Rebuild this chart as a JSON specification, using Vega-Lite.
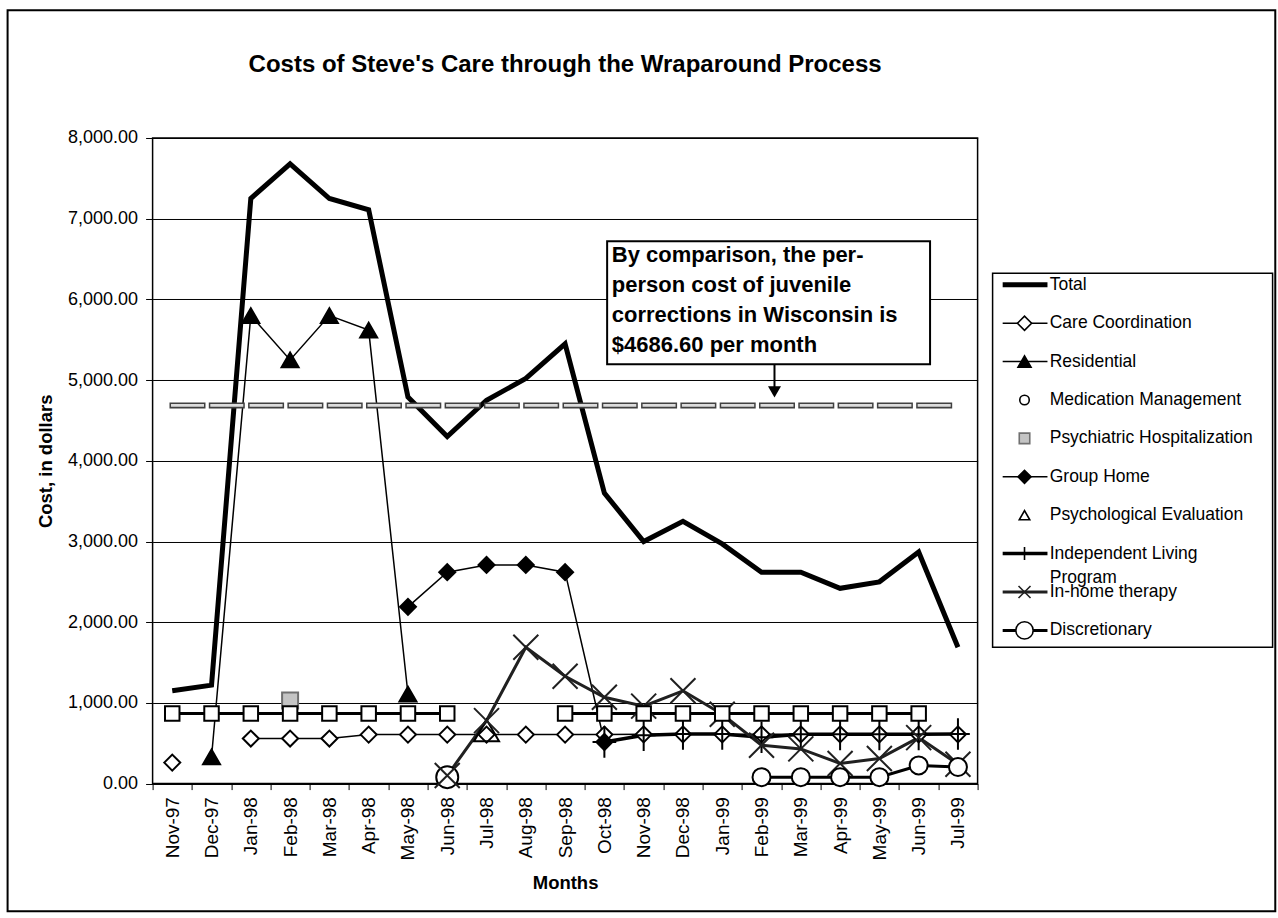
{
  "$schema": "https://vega.github.io/schema/vega-lite/v6.json",
  "autosize": {"type": "pad"},
  "padding": {"left": 5.6, "top": 9, "right": 0, "bottom": 0},
  "background": "white",
  "spacing": 15,
  "bounds": "flush",
  "resolve": {"scale": {"size": "independent"}},
  "config": {
    "font": "Liberation Sans",
    "view": {"stroke": null},
    "axis": {"labelColor": "black", "titleColor": "black", "tickColor": "black", "domainColor": "black"}
  },
  "datasets": {
    "costs": [
      {"month": "Nov-97", "Total": 1150, "Care Coordination": 260, "Residential": null, "Medication Management": null, "Psychiatric Hospitalization": null, "Group Home": null, "Psychological Evaluation": null, "Independent Living Program": null, "In-home therapy": null, "Discretionary": null, "Other services": 870},
      {"month": "Dec-97", "Total": 1220, "Care Coordination": null, "Residential": 330, "Medication Management": null, "Psychiatric Hospitalization": null, "Group Home": null, "Psychological Evaluation": null, "Independent Living Program": null, "In-home therapy": null, "Discretionary": null, "Other services": 870},
      {"month": "Jan-98", "Total": 7250, "Care Coordination": 558, "Residential": 5800, "Medication Management": null, "Psychiatric Hospitalization": null, "Group Home": null, "Psychological Evaluation": null, "Independent Living Program": null, "In-home therapy": null, "Discretionary": null, "Other services": 870},
      {"month": "Feb-98", "Total": 7680, "Care Coordination": 558, "Residential": 5250, "Medication Management": null, "Psychiatric Hospitalization": 1030, "Group Home": null, "Psychological Evaluation": null, "Independent Living Program": null, "In-home therapy": null, "Discretionary": null, "Other services": 870},
      {"month": "Mar-98", "Total": 7250, "Care Coordination": 558, "Residential": 5800, "Medication Management": null, "Psychiatric Hospitalization": null, "Group Home": null, "Psychological Evaluation": null, "Independent Living Program": null, "In-home therapy": null, "Discretionary": null, "Other services": 870},
      {"month": "Apr-98", "Total": 7110, "Care Coordination": 607, "Residential": 5620, "Medication Management": null, "Psychiatric Hospitalization": null, "Group Home": null, "Psychological Evaluation": null, "Independent Living Program": null, "In-home therapy": null, "Discretionary": null, "Other services": 870},
      {"month": "May-98", "Total": 4790, "Care Coordination": 607, "Residential": 1110, "Medication Management": null, "Psychiatric Hospitalization": null, "Group Home": 2190, "Psychological Evaluation": null, "Independent Living Program": null, "In-home therapy": null, "Discretionary": null, "Other services": 870},
      {"month": "Jun-98", "Total": 4300, "Care Coordination": 607, "Residential": null, "Medication Management": 80, "Psychiatric Hospitalization": null, "Group Home": 2620, "Psychological Evaluation": null, "Independent Living Program": null, "In-home therapy": 100, "Discretionary": null, "Other services": 870},
      {"month": "Jul-98", "Total": 4750, "Care Coordination": 607, "Residential": null, "Medication Management": null, "Psychiatric Hospitalization": null, "Group Home": 2710, "Psychological Evaluation": 660, "Independent Living Program": null, "In-home therapy": 780, "Discretionary": null, "Other services": null},
      {"month": "Aug-98", "Total": 5020, "Care Coordination": 607, "Residential": null, "Medication Management": null, "Psychiatric Hospitalization": null, "Group Home": 2710, "Psychological Evaluation": null, "Independent Living Program": null, "In-home therapy": 1690, "Discretionary": null, "Other services": null},
      {"month": "Sep-98", "Total": 5450, "Care Coordination": 607, "Residential": null, "Medication Management": null, "Psychiatric Hospitalization": null, "Group Home": 2620, "Psychological Evaluation": null, "Independent Living Program": null, "In-home therapy": 1330, "Discretionary": null, "Other services": 870},
      {"month": "Oct-98", "Total": 3600, "Care Coordination": 607, "Residential": null, "Medication Management": null, "Psychiatric Hospitalization": null, "Group Home": 515, "Psychological Evaluation": null, "Independent Living Program": 515, "In-home therapy": 1070, "Discretionary": null, "Other services": 870},
      {"month": "Nov-98", "Total": 3000, "Care Coordination": 610, "Residential": null, "Medication Management": null, "Psychiatric Hospitalization": null, "Group Home": null, "Psychological Evaluation": null, "Independent Living Program": 600, "In-home therapy": 960, "Discretionary": null, "Other services": 870},
      {"month": "Dec-98", "Total": 3250, "Care Coordination": 610, "Residential": null, "Medication Management": null, "Psychiatric Hospitalization": null, "Group Home": null, "Psychological Evaluation": null, "Independent Living Program": 615, "In-home therapy": 1150, "Discretionary": null, "Other services": 870},
      {"month": "Jan-99", "Total": 2970, "Care Coordination": 610, "Residential": null, "Medication Management": null, "Psychiatric Hospitalization": null, "Group Home": null, "Psychological Evaluation": null, "Independent Living Program": 615, "In-home therapy": 860, "Discretionary": null, "Other services": 870},
      {"month": "Feb-99", "Total": 2620, "Care Coordination": 610, "Residential": null, "Medication Management": null, "Psychiatric Hospitalization": null, "Group Home": null, "Psychological Evaluation": null, "Independent Living Program": 575, "In-home therapy": 475, "Discretionary": 80, "Other services": 870},
      {"month": "Mar-99", "Total": 2620, "Care Coordination": 610, "Residential": null, "Medication Management": null, "Psychiatric Hospitalization": null, "Group Home": null, "Psychological Evaluation": null, "Independent Living Program": 610, "In-home therapy": 430, "Discretionary": 80, "Other services": 870},
      {"month": "Apr-99", "Total": 2420, "Care Coordination": 610, "Residential": null, "Medication Management": null, "Psychiatric Hospitalization": null, "Group Home": null, "Psychological Evaluation": null, "Independent Living Program": 610, "In-home therapy": 250, "Discretionary": 80, "Other services": 870},
      {"month": "May-99", "Total": 2500, "Care Coordination": 610, "Residential": null, "Medication Management": null, "Psychiatric Hospitalization": null, "Group Home": null, "Psychological Evaluation": null, "Independent Living Program": 610, "In-home therapy": 310, "Discretionary": 80, "Other services": 870},
      {"month": "Jun-99", "Total": 2870, "Care Coordination": 610, "Residential": null, "Medication Management": null, "Psychiatric Hospitalization": null, "Group Home": null, "Psychological Evaluation": null, "Independent Living Program": 610, "In-home therapy": 570, "Discretionary": 225, "Other services": 870},
      {"month": "Jul-99", "Total": 1690, "Care Coordination": 610, "Residential": null, "Medication Management": null, "Psychiatric Hospitalization": null, "Group Home": null, "Psychological Evaluation": null, "Independent Living Program": 615, "In-home therapy": 240, "Discretionary": 205, "Other services": null}
    ],
    "legend": [
      {"series": "Total", "rank": 1, "label": "Total"},
      {"series": "Care Coordination", "rank": 2, "label": "Care Coordination"},
      {"series": "Residential", "rank": 3, "label": "Residential"},
      {"series": "Medication Management", "rank": 4, "label": "Medication Management"},
      {"series": "Psychiatric Hospitalization", "rank": 5, "label": "Psychiatric Hospitalization"},
      {"series": "Group Home", "rank": 6, "label": "Group Home"},
      {"series": "Psychological Evaluation", "rank": 7, "label": "Psychological Evaluation"},
      {"series": "Independent Living Program", "rank": 8, "label": "Independent Living\nProgram"},
      {"series": "In-home therapy", "rank": 9, "label": "In-home therapy"},
      {"series": "Discretionary", "rank": 10, "label": "Discretionary"}
    ]
  },
  "hconcat": [
    {
      "width": 825,
      "height": 645.6,
      "view": {"stroke": "black", "strokeWidth": 1.5},
      "title": {"text": "Costs of Steve's Care through the Wraparound Process", "fontSize": 24, "fontWeight": "bold", "anchor": "middle", "frame": "group", "baseline": "alphabetic", "offset": 33, "color": "black"},
      "data": {"name": "costs"},
      "transform": [
        {"window": [{"op": "row_number", "as": "m"}]},
        {"fold": ["Total", "Care Coordination", "Residential", "Medication Management", "Psychiatric Hospitalization", "Group Home", "Psychological Evaluation", "Independent Living Program", "In-home therapy", "Discretionary", "Other services"], "as": ["series", "cost"]}
      ],
      "layer": [
        {
          "mark": {"type": "line", "invalid": "break-paths-filter-domains"},
          "encoding": {
            "x": {"field": "m", "type": "quantitative",
              "scale": {"domain": [0.5, 21.5], "nice": false, "zero": false},
              "axis": {"title": "Months", "values": [0.5,1.5,2.5,3.5,4.5,5.5,6.5,7.5,8.5,9.5,10.5,11.5,12.5,13.5,14.5,15.5,16.5,17.5,18.5,19.5,20.5,21.5],
                "tickCount": 60,
                "labelExpr": "['Nov-97','Dec-97','Jan-98','Feb-98','Mar-98','Apr-98','May-98','Jun-98','Jul-98','Aug-98','Sep-98','Oct-98','Nov-98','Dec-98','Jan-99','Feb-99','Mar-99','Apr-99','May-99','Jun-99','Jul-99'][round(datum.value - 0.5)] || ''",
                "labelAngle": 270, "labelAlign": "right", "labelBaseline": "middle", "labelOffset": 19.64, "labelPadding": 7,
                "labelFontSize": 19, "labelOverlap": false, "labelFlush": false, "labelBound": false,
                "tickSize": 6, "domain": false, "grid": false,
                "titleFontSize": 18.5, "titleFontWeight": "bold", "titlePadding": 14}},
            "y": {"field": "cost", "type": "quantitative",
              "scale": {"domain": [0, 8000], "nice": false, "zero": true},
              "axis": {"title": "Cost, in dollars", "values": [0,1000,2000,3000,4000,5000,6000,7000,8000], "format": ",.2f", "tickCount": 20,
                "grid": true, "gridColor": "black", "gridWidth": 1, "gridOpacity": 1, "domain": false,
                "tickSize": 7, "labelPadding": 8, "labelFontSize": 18,
                "titleFontSize": 18.5, "titleFontWeight": "bold", "titlePadding": 12}},
            "detail": {"field": "series", "type": "nominal"},
            "stroke": {"field": "series", "type": "nominal", "legend": null,
              "scale": {"domain": ["Total", "Care Coordination", "Residential", "Medication Management", "Psychiatric Hospitalization", "Group Home", "Psychological Evaluation", "Independent Living Program", "In-home therapy", "Discretionary", "Other services"],
                "range": ["black", "black", "black", "black", "#707070", "black", "black", "black", "#202020", "black", "black"]}},
            "strokeWidth": {"field": "series", "type": "nominal", "legend": null,
              "scale": {"type": "ordinal", "domain": ["Total", "Care Coordination", "Residential", "Medication Management", "Psychiatric Hospitalization", "Group Home", "Psychological Evaluation", "Independent Living Program", "In-home therapy", "Discretionary", "Other services"],
                "range": [5, 1.5, 1.5, 1, 1, 1.5, 1, 3.5, 3, 3, 3]}}
          }
        },
        {
          "transform": [{"filter": "datum.cost != null && datum.series != 'Total'"}],
          "mark": {"type": "point", "opacity": 1, "strokeWidth": 2},
          "encoding": {
            "x": {"field": "m", "type": "quantitative"},
            "y": {"field": "cost", "type": "quantitative"},
            "shape": {"field": "series", "type": "nominal", "legend": null,
              "scale": {"domain": ["Total", "Care Coordination", "Residential", "Medication Management", "Psychiatric Hospitalization", "Group Home", "Psychological Evaluation", "Independent Living Program", "In-home therapy", "Discretionary", "Other services"],
                "range": ["circle", "diamond", "triangle-up", "circle", "square", "diamond", "triangle-up", "M-0.75,0H0.75M0,-1V1", "M-1,-1L1,1M-1,1L1,-1", "circle", "square"]}},
            "fill": {"field": "series", "type": "nominal", "legend": null,
              "scale": {"domain": ["Total", "Care Coordination", "Residential", "Medication Management", "Psychiatric Hospitalization", "Group Home", "Psychological Evaluation", "Independent Living Program", "In-home therapy", "Discretionary", "Other services"],
                "range": ["white", "white", "black", "white", "#c4c4c4", "black", "transparent", "transparent", "transparent", "white", "white"]}},
            "stroke": {"field": "series", "type": "nominal", "legend": null},
            "size": {"field": "series", "type": "nominal", "legend": null,
              "scale": {"type": "ordinal", "domain": ["Total", "Care Coordination", "Residential", "Medication Management", "Psychiatric Hospitalization", "Group Home", "Psychological Evaluation", "Independent Living Program", "In-home therapy", "Discretionary", "Other services"],
                "range": [0, 256, 289, 484, 256, 256, 625, 1000, 625, 324, 210]}}
          }
        },
        {
          "data": {"values": [{}]},
          "mark": {"type": "rule", "stroke": "#404040", "strokeWidth": 6, "strokeDash": [36, 3.3]},
          "encoding": {"x": {"datum": 0.93, "type": "quantitative"}, "x2": {"datum": 20.86}, "y": {"datum": 4686.6, "type": "quantitative"}}
        },
        {
          "data": {"values": [{}]},
          "mark": {"type": "rule", "stroke": "#dcdcdc", "strokeWidth": 2.6, "strokeDash": [33, 6.3], "strokeDashOffset": -1.5},
          "encoding": {"x": {"datum": 0.93, "type": "quantitative"}, "x2": {"datum": 20.86}, "y": {"datum": 4686.6, "type": "quantitative"}}
        },
        {
          "data": {"values": [{}]},
          "mark": {"type": "rect", "fill": "white", "stroke": "black", "strokeWidth": 2},
          "encoding": {"x": {"datum": 12.07, "type": "quantitative"}, "x2": {"datum": 20.29}, "y": {"datum": 6720, "type": "quantitative"}, "y2": {"datum": 5196}}
        },
        {
          "data": {"values": [{}]},
          "mark": {"type": "text", "text": ["By comparison, the per-", "person cost of juvenile", "corrections in Wisconsin is", "$4686.60 per month"], "align": "left", "baseline": "line-top", "lineHeight": 30, "fontSize": 22, "fontWeight": "bold", "color": "black"},
          "encoding": {"x": {"datum": 12.19, "type": "quantitative"}, "y": {"datum": 6720, "type": "quantitative"}}
        },
        {
          "data": {"values": [{}]},
          "mark": {"type": "rule", "stroke": "black", "strokeWidth": 2},
          "encoding": {"x": {"datum": 16.33, "type": "quantitative"}, "y": {"datum": 5196, "type": "quantitative"}, "y2": {"datum": 4860}}
        },
        {
          "data": {"values": [{}]},
          "mark": {"type": "point", "shape": "triangle-down", "filled": true, "color": "black", "opacity": 1, "size": 169},
          "encoding": {"x": {"datum": 16.33, "type": "quantitative"}, "y": {"datum": 4854, "type": "quantitative"}}
        }
      ]
    },
    {
      "width": 280,
      "height": 645.6,
      "data": {"name": "legend"},
      "layer": [
        {
          "data": {"values": [{}]},
          "mark": {"type": "rect", "fill": "transparent", "stroke": "black", "strokeWidth": 2},
          "encoding": {
            "x": {"datum": -351.79, "type": "quantitative", "scale": {"domain": [0, 100], "nice": false, "zero": false}, "axis": null},
            "x2": {"datum": 100.96},
            "y": {"datum": -6.149, "type": "quantitative", "scale": {"domain": [-2.823, 13.99], "reverse": true, "nice": false, "zero": false}, "axis": null},
            "y2": {"datum": 17.315}
          }
        },
        {
          "data": {"values": [{}]},
          "mark": {"type": "rect", "fill": "white", "stroke": "black", "strokeWidth": 1.5},
          "encoding": {
            "x": {"datum": 0, "type": "quantitative"},
            "x2": {"datum": 100},
            "y": {"datum": 0.70, "type": "quantitative"},
            "y2": {"datum": 10.44}
          }
        },
        {
          "transform": [{"filter": "indexof(['Medication Management','Psychiatric Hospitalization','Psychological Evaluation'], datum.series) < 0"}],
          "mark": {"type": "rule"},
          "encoding": {
            "x": {"datum": 3.6, "type": "quantitative"},
            "x2": {"datum": 19.6},
            "y": {"field": "rank", "type": "quantitative"},
            "stroke": {"field": "series", "type": "nominal", "legend": null,
              "scale": {"domain": ["Total", "Care Coordination", "Residential", "Medication Management", "Psychiatric Hospitalization", "Group Home", "Psychological Evaluation", "Independent Living Program", "In-home therapy", "Discretionary", "Other services"],
                "range": ["black", "black", "black", "black", "#707070", "black", "black", "black", "#202020", "black", "black"]}},
            "strokeWidth": {"field": "series", "type": "nominal", "legend": null,
              "scale": {"type": "ordinal", "domain": ["Total", "Care Coordination", "Residential", "Medication Management", "Psychiatric Hospitalization", "Group Home", "Psychological Evaluation", "Independent Living Program", "In-home therapy", "Discretionary", "Other services"],
                "range": [5, 1.5, 1.5, 1, 1, 1.5, 1, 3.5, 3, 3, 3]}}
          }
        },
        {
          "transform": [{"filter": "datum.series != 'Total'"}],
          "mark": {"type": "point", "opacity": 1, "strokeWidth": 1.6},
          "encoding": {
            "x": {"datum": 11.4, "type": "quantitative"},
            "y": {"field": "rank", "type": "quantitative"},
            "shape": {"field": "series", "type": "nominal", "legend": null,
              "scale": {"domain": ["Total", "Care Coordination", "Residential", "Medication Management", "Psychiatric Hospitalization", "Group Home", "Psychological Evaluation", "Independent Living Program", "In-home therapy", "Discretionary", "Other services"],
                "range": ["circle", "diamond", "triangle-up", "circle", "square", "diamond", "triangle-up", "M-0.75,0H0.75M0,-1V1", "M-1,-1L1,1M-1,1L1,-1", "circle", "square"]}},
            "fill": {"field": "series", "type": "nominal", "legend": null,
              "scale": {"domain": ["Total", "Care Coordination", "Residential", "Medication Management", "Psychiatric Hospitalization", "Group Home", "Psychological Evaluation", "Independent Living Program", "In-home therapy", "Discretionary", "Other services"],
                "range": ["white", "white", "black", "white", "#c4c4c4", "black", "transparent", "transparent", "transparent", "white", "white"]}},
            "stroke": {"field": "series", "type": "nominal", "legend": null},
            "size": {"field": "series", "type": "nominal", "legend": null,
              "scale": {"type": "ordinal", "domain": ["Total", "Care Coordination", "Residential", "Medication Management", "Psychiatric Hospitalization", "Group Home", "Psychological Evaluation", "Independent Living Program", "In-home therapy", "Discretionary", "Other services"],
                "range": [0, 200, 170, 90, 110, 170, 110, 169, 144, 300, 100]}}
          }
        },
        {
          "mark": {"type": "text", "align": "left", "baseline": "line-top", "dy": -12, "lineHeight": 24, "lineBreak": "\n", "fontSize": 17.5, "color": "black"},
          "encoding": {
            "x": {"datum": 20.4, "type": "quantitative"},
            "y": {"field": "rank", "type": "quantitative"},
            "text": {"field": "label", "type": "nominal"}
          }
        }
      ]
    }
  ]
}
